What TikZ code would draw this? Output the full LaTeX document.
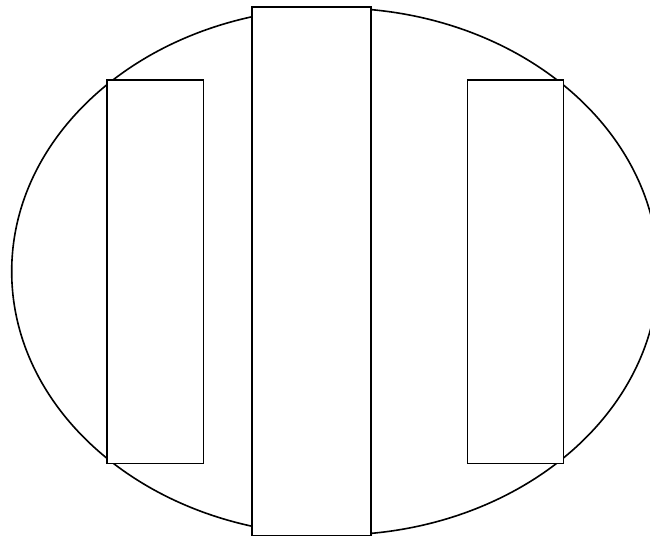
\documentclass[tikz,border=0pt]{standalone}
\usetikzlibrary{shapes.geometric}
\begin{document}
\begin{tikzpicture}[x=1pt,y=-1pt,
  shapeline/.style={draw=black, line width=1.6pt},
  box/.style={shapeline, fill=white, rectangle, inner sep=0pt, outer sep=0pt, anchor=north west}]
\useasboundingbox (0,0) rectangle (650,535);
\node[shapeline, ellipse, minimum width=646.6pt, minimum height=527pt, inner sep=0pt] (oval) at (335,271.5) {};
\node[box, minimum width=96.6pt, minimum height=383.3pt] (leftbox) at (106.7,80) {};
\node[box, minimum width=96pt, minimum height=383.3pt] (rightbox) at (467.3,80) {};
\node[box, minimum width=119pt, minimum height=528.5pt] (centerbox) at (251.7,7.3) {};
\end{tikzpicture}
\end{document}
